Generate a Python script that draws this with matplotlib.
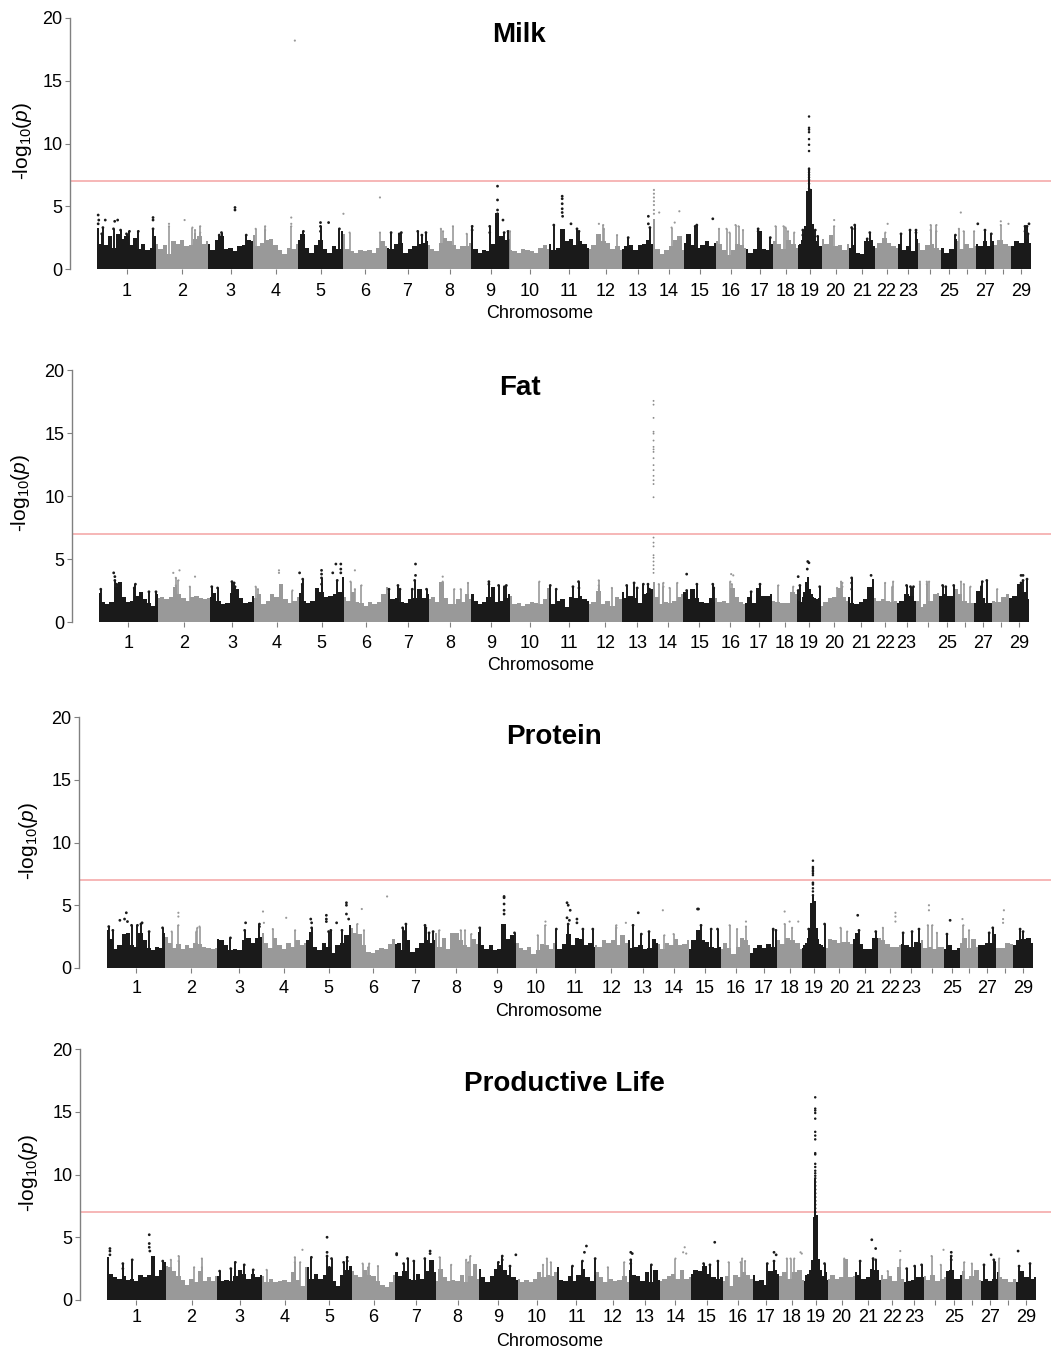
import numpy as np
import matplotlib
matplotlib.use('Agg')
import matplotlib.pyplot as plt

plt.rcParams['font.family'] = ['Liberation Sans', 'DejaVu Sans']
plt.rcParams['mathtext.fontset'] = 'custom'
plt.rcParams['mathtext.rm'] = 'Liberation Sans'
plt.rcParams['mathtext.it'] = 'Liberation Sans:italic'

# === DATA ===
# chromosome lengths
chrom_sizes = [59, 52, 45, 45, 45, 44, 41, 43, 39, 39, 40, 33, 31, 31, 32,
               30, 27, 25, 24, 27, 26, 23, 20, 23, 16, 19, 18, 17, 20]
chrom_labels = ['1', '2', '3', '4', '5', '6', '7', '8', '9', '10', '11', '12',
                '13', '14', '15', '16', '17', '18', '19', '20', '21', '22',
                '23', '', '25', '', '27', '', '29']
threshold = 7

# top of the solid mass along each chromosome, one list per chromosome
milk_top = [
    [3.3, 2.0, 1.9, 2.6, 1.7, 2.8, 2.4, 2.6, 1.9, 2.5, 1.6, 2.0, 1.5, 1.7, 2.6],
    [2.0, 1.6, 1.9, 1.2, 2.2, 2.0, 2.3, 1.8, 1.9, 2.4, 2.6, 2.0, 2.2],
    [2.0, 1.5, 2.3, 2.6, 1.6, 1.7, 1.4, 1.8, 1.9, 2.3, 2.2],
    [2.7, 1.8, 2.1, 2.3, 2.4, 1.9, 1.5, 1.2, 1.7, 1.6, 2.0],
    [2.3, 2.8, 1.7, 1.3, 1.9, 2.3, 1.6, 1.3, 1.8, 1.6, 3.0],
    [2.8, 1.6, 1.4, 1.3, 1.5, 1.4, 1.5, 1.3, 1.7, 2.2, 1.8],
    [1.7, 1.6, 2.0, 2.1, 1.3, 1.6, 1.8, 2.0, 2.1, 2.2],
    [1.9, 1.6, 1.4, 2.1, 2.5, 2.2, 1.9, 1.6, 1.8, 1.8, 2.1],
    [2.2, 1.6, 1.3, 1.5, 1.4, 2.0, 4.5, 2.6, 2.3, 2.4],
    [1.5, 1.4, 1.3, 1.6, 1.5, 1.4, 1.3, 1.7, 1.9, 1.6],
    [2.0, 1.5, 1.7, 3.2, 2.2, 2.4, 1.9, 2.2, 2.0, 1.7],
    [1.6, 1.9, 2.8, 2.2, 2.1, 1.6, 1.8, 1.5],
    [1.6, 1.8, 1.9, 1.5, 1.9, 2.0, 2.3, 2.0],
    [4.0, 1.6, 1.2, 1.5, 1.8, 2.3, 2.6, 1.5],
    [2.1, 2.8, 1.9, 1.7, 1.9, 2.2, 1.8, 2.1],
    [2.2, 2.0, 1.5, 1.1, 1.5, 2.0, 1.9, 1.7],
    [1.6, 1.3, 1.6, 3.0, 1.6, 1.5, 2.0],
    [2.2, 2.0, 1.6, 2.3, 2.0, 1.7],
    [1.9, 2.0, 2.3, 2.6, 3.4, 6.2, 7.9, 6.4, 3.6, 2.6, 2.2, 2.0, 1.8, 1.8],
    [2.4, 2.0, 2.7, 1.8, 1.9, 1.5, 2.0],
    [1.7, 1.9, 1.3, 1.2, 2.2, 2.3, 1.8],
    [1.7, 2.1, 2.5, 2.1, 1.8, 1.7],
    [2.0, 1.5, 1.8, 1.4, 2.4],
    [2.1, 1.5, 1.9, 2.0, 1.7, 1.5],
    [1.7, 1.3, 1.6, 2.4],
    [2.2, 1.6, 2.0, 1.7, 1.8],
    [2.0, 1.8, 2.2, 1.8, 2.2],
    [1.9, 2.3, 2.0, 1.8],
    [1.8, 2.2, 2.1, 2.4, 2.1],
]
fat_top = [
    [2.3, 1.6, 1.4, 1.6, 2.8, 3.2, 2.0, 1.6, 1.7, 2.1, 2.4, 1.8, 1.5, 1.3, 2.2],
    [1.9, 2.0, 1.8, 2.0, 2.8, 2.2, 1.9, 1.7, 2.0, 2.1, 1.9, 1.8, 1.9],
    [2.0, 2.3, 1.7, 1.4, 1.5, 2.3, 2.6, 1.9, 1.5, 1.6, 2.1],
    [1.9, 2.2, 1.4, 1.7, 2.2, 2.0, 3.0, 1.8, 1.5, 1.7, 2.0],
    [2.3, 1.7, 1.5, 1.7, 2.7, 2.4, 2.0, 2.1, 2.2, 2.4, 3.6],
    [2.0, 1.7, 2.4, 1.6, 1.5, 1.3, 1.6, 1.4, 1.6, 2.2, 2.8],
    [2.3, 1.8, 1.9, 1.6, 1.5, 1.8, 1.9, 2.6, 1.9, 2.2],
    [1.8, 2.0, 1.6, 3.2, 1.9, 1.4, 1.4, 1.8, 1.6, 2.2, 1.8],
    [2.2, 1.7, 1.4, 1.6, 2.0, 2.8, 1.6, 1.7, 1.9, 2.2],
    [2.1, 1.4, 1.5, 1.3, 1.4, 1.6, 1.5, 1.4, 1.8, 2.7],
    [1.9, 1.4, 1.7, 1.8, 1.2, 2.0, 1.9, 2.1, 1.8, 1.7],
    [1.4, 1.6, 2.5, 1.4, 1.7, 1.3, 2.0, 1.8],
    [2.4, 1.9, 2.1, 1.9, 1.5, 2.2, 2.3, 2.6],
    [3.2, 2.0, 1.4, 1.6, 1.5, 1.7, 2.0, 2.2],
    [2.4, 1.8, 2.6, 1.9, 1.6, 1.5, 1.9, 1.6],
    [1.9, 1.6, 1.7, 1.5, 2.7, 2.0, 1.6, 1.4],
    [1.5, 2.0, 1.5, 2.7, 2.1, 2.1, 2.2],
    [1.7, 1.6, 1.5, 1.5, 2.4, 2.2],
    [1.8, 1.7, 1.6, 2.0, 2.4, 3.2, 3.6, 2.6, 2.2, 2.0, 1.9, 1.8, 1.9, 1.7],
    [1.3, 1.6, 1.9, 2.0, 2.7, 2.0, 1.7],
    [2.0, 1.5, 1.4, 1.6, 1.8, 2.8, 3.4],
    [1.9, 1.7, 1.8, 1.7, 1.6, 1.7],
    [1.5, 1.7, 2.2, 2.1, 1.7],
    [1.7, 1.2, 1.4, 1.7, 2.2, 2.3],
    [2.1, 2.2, 2.1, 2.6],
    [2.6, 2.2, 1.7, 1.5, 1.5],
    [1.5, 2.5, 1.9, 1.5, 1.5],
    [1.7, 1.6, 2.0, 2.2],
    [1.9, 2.1, 3.0, 2.4, 1.8],
]
protein_top = [
    [3.0, 2.3, 1.5, 1.8, 2.7, 2.8, 1.8, 1.7, 2.8, 2.2, 1.6, 1.4, 1.7, 1.6, 2.8],
    [2.5, 2.0, 1.6, 1.9, 1.5, 1.8, 1.6, 2.0, 1.9, 1.7, 1.6, 1.5, 1.6],
    [2.3, 2.2, 1.8, 1.4, 1.5, 1.4, 2.2, 2.4, 2.0, 2.4, 2.5],
    [2.8, 2.0, 1.6, 2.4, 1.8, 1.5, 2.0, 1.7, 2.2, 1.8, 2.0],
    [2.2, 2.9, 1.7, 1.4, 2.0, 1.7, 1.2, 1.8, 2.0, 2.6, 3.4],
    [3.2, 2.8, 2.7, 1.8, 1.3, 1.2, 1.4, 1.6, 1.5, 1.9, 2.3],
    [1.9, 2.0, 1.4, 2.2, 1.3, 1.6, 2.0, 2.2, 2.0, 2.2],
    [2.8, 1.7, 2.4, 1.5, 2.8, 2.8, 2.2, 1.8, 1.7, 2.3, 1.9],
    [2.9, 1.8, 1.5, 1.8, 1.4, 1.5, 3.5, 2.3, 2.6, 2.0],
    [2.0, 1.6, 1.4, 1.7, 1.1, 1.4, 1.9, 1.8, 1.5, 2.0],
    [1.8, 1.5, 1.9, 2.7, 1.8, 2.4, 2.3, 1.8, 2.0, 1.7],
    [1.8, 1.7, 2.2, 2.0, 2.2, 1.8, 2.6, 2.0],
    [2.2, 1.6, 1.7, 1.8, 1.5, 1.6, 2.3, 2.0],
    [1.9, 1.5, 2.0, 1.8, 2.3, 1.8, 1.9, 2.2],
    [1.5, 2.2, 3.0, 2.2, 2.1, 1.7, 1.6, 1.7],
    [1.5, 2.0, 1.6, 1.1, 1.7, 2.4, 2.2, 1.8],
    [1.2, 1.6, 1.8, 1.6, 1.9, 1.7, 2.5],
    [2.2, 1.9, 2.4, 2.2, 2.0, 1.5],
    [1.6, 1.8, 2.0, 2.4, 3.2, 5.2, 5.8, 5.3, 3.2, 2.3, 1.9, 1.8, 1.7, 1.6],
    [1.6, 2.3, 2.2, 2.0, 2.1, 2.1, 1.9],
    [2.3, 2.8, 1.9, 1.5, 1.5, 2.4, 2.4],
    [2.4, 2.2, 1.9, 1.7, 1.7, 1.8],
    [1.9, 1.8, 1.7, 2.1, 2.0],
    [2.2, 1.6, 1.7, 1.5, 1.7, 1.7],
    [1.5, 1.8, 1.4, 1.6],
    [2.0, 2.4, 1.6, 2.3, 1.7],
    [1.8, 1.8, 2.0, 2.0, 2.7],
    [1.6, 1.6, 2.0, 1.9],
    [1.8, 2.2, 2.3, 2.4, 2.0],
]
life_top = [
    [3.4, 2.1, 1.8, 1.7, 1.9, 1.6, 1.7, 1.5, 2.0, 1.8, 2.0, 3.5, 1.9, 2.4, 3.0],
    [2.7, 2.6, 2.3, 1.9, 1.6, 1.2, 1.7, 1.4, 2.3, 1.5, 1.8, 1.5, 1.9],
    [1.9, 1.5, 1.6, 1.5, 1.9, 2.4, 2.1, 1.7, 2.1, 1.8, 2.0],
    [1.9, 1.4, 1.7, 1.4, 1.5, 1.6, 1.4, 2.2, 1.6, 1.1, 2.6],
    [2.6, 1.7, 2.1, 1.7, 2.0, 2.6, 1.5, 1.1, 2.0, 2.4, 2.7],
    [2.3, 2.0, 1.8, 2.4, 2.0, 1.9, 1.5, 1.2, 1.0, 1.4, 2.0],
    [2.2, 1.9, 2.3, 1.7, 1.6, 2.1, 1.7, 2.3, 3.2, 2.2],
    [1.5, 2.5, 1.8, 1.5, 1.6, 1.5, 2.0, 1.4, 1.9, 2.9, 1.7],
    [2.5, 1.8, 1.4, 1.9, 2.5, 2.8, 2.4, 2.0, 1.8, 1.6],
    [1.7, 1.4, 1.6, 1.4, 1.7, 2.2, 1.8, 2.0, 1.9, 2.2],
    [2.6, 1.6, 1.5, 1.9, 1.5, 2.0, 2.5, 1.8, 1.5, 2.0],
    [2.2, 1.8, 1.4, 1.7, 1.5, 1.6, 1.9, 1.4],
    [2.4, 2.0, 1.9, 1.5, 2.2, 1.4, 2.4, 1.6],
    [1.5, 1.7, 1.9, 2.1, 1.7, 2.4, 1.7, 1.8],
    [2.1, 2.4, 2.3, 2.7, 2.1, 1.8, 1.7, 1.8],
    [1.5, 1.9, 1.1, 2.0, 1.8, 2.2, 2.0, 1.7],
    [2.0, 1.5, 1.6, 1.2, 2.3, 2.4, 2.1],
    [1.9, 2.2, 1.7, 2.2, 2.4, 1.6],
    [1.5, 2.0, 2.1, 2.4, 3.2, 6.6, 9.7, 6.8, 3.3, 2.4, 1.9, 1.9, 2.2, 1.6],
    [1.7, 2.0, 1.7, 1.8, 3.3, 1.8, 1.9],
    [2.2, 2.0, 1.7, 1.8, 2.5, 2.4, 1.6],
    [2.0, 1.7, 1.9, 1.5, 2.6, 1.7],
    [1.4, 1.5, 1.6, 1.8, 1.8],
    [1.9, 1.6, 2.0, 1.5, 1.7, 1.8],
    [2.3, 2.4, 1.7, 2.0],
    [2.3, 1.7, 1.9, 2.4, 1.6],
    [1.5, 1.7, 1.5, 1.7, 2.2],
    [1.8, 1.7, 1.4, 1.7],
    [1.4, 2.3, 1.8, 1.7, 1.8],
]

# loose points above the mass: chromosome, place along it (0-1), -log10(p)
milk_points = [
    (1, .02, 4.3), (1, .03, 3.9), (1, .02, 3.6), (1, .14, 3.9), (1, .3, 3.8), (1, .35, 3.9),
    (1, .1, 3.3), (1, .28, 3.2), (1, .4, 3.1), (1, .55, 3.0), (1, .7, 3.0), (1, .95, 4.1),
    (1, .95, 3.9), (1, .95, 3.2), (1, .08, 2.8), (1, .5, 2.8),
    (2, .25, 3.6), (2, .25, 3.4), (2, .55, 3.9), (2, .7, 3.3), (2, .75, 3.1), (2, .85, 3.4),
    (2, .75, 2.8), (2, .85, 2.9),
    (3, .6, 4.9), (3, .6, 4.7), (3, .3, 2.9), (3, .85, 2.7), (3, .25, 2.7),
    (4, .06, 3.2), (4, .27, 3.4), (4, .27, 3.1), (4, .85, 4.1), (4, .85, 3.6), (4, .85, 3.4),
    (4, .93, 18.2),
    (5, .12, 3.0), (5, .5, 3.7), (5, .5, 3.4), (5, .68, 3.7), (5, .5, 3.0), (5, .92, 3.2),
    (6, .01, 4.4), (6, .15, 2.9), (6, .84, 5.7), (6, .84, 2.9),
    (7, .1, 2.9), (7, .3, 2.8), (7, .35, 2.9), (7, .75, 3.0), (7, .95, 2.9), (7, .85, 2.7),
    (8, .3, 3.2), (8, .58, 3.4), (8, .9, 2.8), (8, .35, 3.0),
    (9, .03, 3.4), (9, .03, 3.1), (9, .68, 6.6), (9, .68, 5.5), (9, .68, 4.7), (9, .68, 4.4),
    (9, .82, 3.9), (9, .48, 3.4), (9, .48, 2.9), (9, .95, 3.0), (9, .85, 2.9),
    (10, .0, 3.0),
    (11, .33, 5.8), (11, .33, 5.6), (11, .33, 5.2), (11, .33, 4.8), (11, .33, 4.5), (11, .12, 3.5),
    (11, .34, 4.2), (11, .55, 3.6), (11, .7, 3.2), (11, .75, 3.0),
    (12, .3, 3.6), (12, .43, 3.5), (12, .45, 3.2), (12, .85, 2.7),
    (13, .85, 4.2), (13, .85, 3.6), (13, .9, 3.3), (13, .2, 2.5),
    (14, .03, 6.3), (14, .03, 6.0), (14, .03, 5.7), (14, .03, 5.4), (14, .03, 5.1), (14, .03, 4.7),
    (14, .03, 4.4), (14, .2, 4.5), (14, .85, 4.6), (14, .7, 3.7), (14, .6, 3.3),
    (15, .9, 4.0), (15, .35, 3.4), (15, .4, 3.5),
    (16, .1, 3.2), (16, .35, 3.2), (16, .65, 3.5), (16, .75, 3.4), (16, .9, 3.1), (16, .45, 2.9),
    (17, .45, 3.2), (17, .45, 3.0), (17, .9, 2.5),
    (18, .1, 3.4), (18, .42, 3.4), (18, .5, 3.3), (18, .6, 3.0), (18, .85, 2.9),
    (19, .2, 3.1), (19, .2, 2.7), (19, .72, 3.1), (19, .82, 2.6),
    (20, .45, 3.9), (20, .45, 3.4),
    (21, .1, 3.3), (21, .22, 3.5), (21, .22, 3.2), (21, .8, 2.9), (21, .7, 2.4),
    (22, .55, 3.6), (22, .45, 2.9),
    (23, .6, 3.1), (23, .9, 3.1), (23, .9, 2.9), (23, .15, 2.8),
    (24, .55, 3.5), (24, .8, 3.5), (24, .55, 3.1), (24, .8, 3.0),
    (25, .9, 2.7),
    (26, .2, 4.5), (26, .1, 3.2), (26, .35, 3.0), (26, .9, 3.0),
    (27, .1, 3.6), (27, .5, 3.1), (27, .85, 2.8),
    (28, .4, 3.8), (28, .4, 3.5), (28, .85, 3.6),
    (29, .7, 3.4), (29, .8, 3.4), (29, .9, 3.6), (29, .7, 3.0), (29, .85, 2.8),
]
fat_points = [
    (1, .03, 2.6), (1, .25, 3.9), (1, .27, 3.6), (1, .27, 3.3), (1, .3, 3.0), (1, .62, 3.0),
    (1, .6, 2.7), (1, .85, 2.4), (1, .97, 2.4),
    (2, .3, 3.9), (2, .42, 4.1), (2, .35, 3.5), (2, .72, 3.6), (2, .4, 3.3), (2, .62, 2.8), (2, .35, 2.9),
    (3, .05, 2.8), (3, .18, 2.7), (3, .5, 3.2), (3, .55, 3.1), (3, .57, 2.8), (3, .55, 2.6), (3, .62, 2.4),
    (4, .03, 2.8), (4, .55, 4.1), (4, .55, 3.9), (4, .08, 2.6), (4, .85, 2.5),
    (5, .01, 3.9), (5, .08, 3.4), (5, .07, 3.0), (5, .5, 4.1), (5, .5, 3.8), (5, .5, 3.5),
    (5, .75, 3.9), (5, .82, 4.6), (5, .93, 4.6), (5, .93, 4.2), (5, .93, 3.9), (5, .85, 3.3), (5, .5, 3.0),
    (6, .25, 4.1), (6, .15, 3.2), (6, .4, 2.9), (6, .25, 2.6),
    (7, .03, 2.6), (7, .25, 2.9), (7, .3, 2.6), (7, .68, 4.6), (7, .68, 3.7), (7, .66, 3.3),
    (7, .6, 2.6), (7, .95, 2.6),
    (8, .33, 3.6), (8, .33, 3.2), (8, .6, 2.6), (8, .75, 2.6), (8, .92, 3.1),
    (9, .45, 3.2), (9, .7, 2.9), (9, .85, 2.8), (9, .9, 2.9), (9, .45, 3.0),
    (10, .75, 3.2),
    (11, .03, 2.9), (11, .18, 2.6), (11, .74, 3.2), (11, .6, 2.8), (11, .75, 2.7),
    (12, .3, 3.3), (12, .3, 2.9), (12, .7, 2.7), (12, .3, 2.6),
    (13, .16, 2.9), (13, .4, 3.1), (13, .5, 2.7), (13, .7, 3.0), (13, .85, 3.0), (13, .9, 2.6),
    (14, .35, 3.1), (14, .35, 2.8), (14, .2, 3.0), (14, .8, 3.1), (14, .55, 2.7),
    (15, .1, 3.8), (15, .42, 3.0), (15, .92, 3.0), (15, .95, 2.7), (15, .1, 2.5),
    (16, .53, 3.8), (16, .6, 3.7), (16, .5, 3.2), (16, .55, 3.0),
    (17, .55, 3.0), (17, .22, 2.4),
    (18, .25, 2.9), (18, .85, 2.8),
    (19, .45, 4.8), (19, .5, 4.7), (19, .43, 4.2), (19, .05, 3.6), (19, .12, 2.9), (19, .95, 2.8), (19, .05, 2.5),
    (20, .75, 3.2), (20, .8, 3.1), (20, .8, 2.8), (20, .6, 2.7),
    (21, .15, 3.5), (21, .15, 3.1), (21, .15, 2.6), (21, .9, 3.7),
    (22, .5, 3.1), (22, .85, 3.2), (22, .82, 2.8),
    (23, .5, 2.9), (23, .7, 2.8), (23, .85, 2.8),
    (24, .15, 3.2), (24, .15, 3.0), (24, .45, 3.2), (24, .55, 3.2), (24, .45, 3.0),
    (25, .2, 2.9), (25, .4, 2.8), (25, .9, 2.9),
    (26, .3, 3.2), (26, .45, 3.0), (26, .8, 2.8),
    (27, .45, 3.2), (27, .7, 3.3), (27, .4, 2.8),
    (28, .3, 2.6),
    (29, .6, 3.7), (29, .7, 3.7), (29, .9, 3.4), (29, .7, 3.3), (29, .6, 3.1),
]
protein_points = [
    (1, .03, 3.3), (1, .1, 3.0), (1, .22, 3.8), (1, .3, 3.9), (1, .33, 4.4), (1, .35, 3.7),
    (1, .42, 3.4), (1, .52, 3.4), (1, .58, 3.5), (1, .6, 3.6), (1, .72, 2.9), (1, .95, 3.2),
    (2, .25, 4.4), (2, .25, 4.1), (2, .25, 3.4), (2, .6, 2.9), (2, .62, 3.2), (2, .66, 3.3), (2, .12, 2.9),
    (3, .64, 3.6), (3, .62, 3.0), (3, .95, 3.5), (3, .95, 3.3), (3, .3, 2.4),
    (4, .03, 4.5), (4, .05, 3.6), (4, .55, 4.0), (4, .25, 3.1), (4, .75, 3.0),
    (5, .1, 3.9), (5, .12, 3.6), (5, .12, 3.2), (5, .45, 4.2), (5, .45, 3.9), (5, .45, 3.7),
    (5, .68, 3.6), (5, .9, 5.2), (5, .9, 5.0), (5, .9, 4.3), (5, .95, 3.9), (5, .55, 3.0),
    (5, .5, 2.9), (5, .8, 3.0),
    (6, .25, 4.7), (6, .83, 5.7), (6, .15, 3.5), (6, .3, 3.0),
    (7, .2, 3.2), (7, .28, 3.5), (7, .25, 2.9), (7, .75, 3.4), (7, .77, 3.2), (7, .95, 2.9), (7, .85, 2.8),
    (8, .1, 3.0), (8, .6, 3.0), (8, .7, 3.0), (8, .85, 2.7),
    (9, .68, 5.7), (9, .68, 5.6), (9, .68, 5.1), (9, .68, 4.6), (9, .68, 4.3), (9, .05, 3.2), (9, .95, 2.8),
    (10, .75, 3.7), (10, .75, 3.4), (10, .55, 2.6),
    (11, .3, 5.2), (11, .33, 5.0), (11, .38, 4.6), (11, .3, 4.0), (11, .36, 3.8), (11, .55, 3.9),
    (11, .55, 3.6), (11, .33, 3.5), (11, .03, 3.1), (11, .95, 3.1), (11, .7, 3.1),
    (12, .95, 3.6), (12, .66, 3.2), (12, .66, 3.4),
    (13, .35, 4.4), (13, .18, 3.4), (13, .45, 2.7), (13, .7, 2.9),
    (14, .15, 4.6), (14, .5, 2.7), (14, .2, 2.6),
    (15, .3, 4.7), (15, .27, 4.7), (15, .38, 3.4), (15, .7, 3.1), (15, .9, 3.1),
    (16, .3, 3.4), (16, .55, 3.1), (16, .85, 3.7), (16, .85, 3.3),
    (17, .85, 3.1), (17, .95, 3.0),
    (18, .3, 4.5), (18, .3, 3.5), (18, .5, 3.7), (18, .85, 3.7), (18, .6, 3.2),
    (19, .28, 3.1), (19, .95, 3.5),
    (20, .55, 3.2), (20, .8, 2.9),
    (21, .2, 4.2), (21, .25, 3.0), (21, .9, 2.9),
    (22, .75, 4.4), (22, .75, 4.1), (22, .75, 3.7), (22, .2, 3.2),
    (23, .1, 2.8), (23, .55, 2.9), (23, .9, 3.1),
    (24, .35, 5.0), (24, .35, 4.6), (24, .3, 3.4), (24, .5, 3.4), (24, .7, 2.8),
    (25, .4, 3.8), (25, .2, 2.7),
    (26, .15, 3.9), (26, .2, 3.4), (26, .5, 3.0),
    (27, .8, 3.2), (27, .6, 2.8),
    (28, .45, 4.6), (28, .4, 3.9), (28, .4, 3.6),
    (29, .35, 3.1), (29, .5, 2.9),
]
life_points = [
    (1, .05, 4.1), (1, .05, 3.9), (1, .05, 3.6), (1, .27, 2.9), (1, .43, 3.2), (1, .72, 5.2),
    (1, .72, 4.5), (1, .72, 4.2), (1, .73, 3.9), (1, .95, 3.1), (1, .27, 2.5),
    (2, .1, 3.2), (2, .25, 3.5), (2, .25, 3.1), (2, .7, 3.3), (2, .7, 2.6), (2, .55, 2.6),
    (3, .05, 2.3), (3, .3, 2.5), (3, .4, 3.0), (3, .6, 2.8), (3, .8, 2.4),
    (4, .9, 4.0), (4, .73, 3.4), (4, .73, 3.0), (4, .85, 3.0), (4, .1, 2.4),
    (5, .1, 3.4), (5, .45, 5.0), (5, .45, 3.8), (5, .45, 3.5), (5, .55, 3.3), (5, .9, 3.4),
    (5, .9, 3.1), (5, .82, 3.0), (5, .5, 2.6),
    (6, .25, 2.9), (6, .4, 2.9), (6, .6, 2.7), (6, .38, 2.6),
    (7, .03, 3.7), (7, .03, 3.6), (7, .3, 3.3), (7, .45, 3.1), (7, .72, 3.3), (7, .85, 3.9),
    (7, .85, 3.7), (7, .2, 2.9),
    (8, .08, 3.4), (8, .35, 2.8), (8, .7, 3.2), (8, .8, 3.5), (8, .75, 3.0),
    (9, .6, 3.5), (9, .6, 3.2), (9, .5, 3.0), (9, .8, 2.7), (9, .95, 3.6),
    (10, .75, 3.3), (10, .85, 3.0), (10, .65, 2.8),
    (11, .75, 4.3), (11, .7, 3.8), (11, .97, 3.3), (11, .65, 3.1), (11, .4, 2.7),
    (12, .85, 3.0), (12, .35, 2.6),
    (13, .05, 3.8), (13, .1, 3.7), (13, .05, 3.2), (13, .05, 2.9), (13, .72, 2.8),
    (14, .5, 3.3), (14, .8, 4.2), (14, .75, 3.8), (14, .85, 3.7),
    (15, .75, 4.6), (15, .85, 3.1), (15, .4, 2.9), (15, .6, 2.8),
    (16, .2, 3.0), (16, .6, 3.0), (16, .65, 3.3), (16, .75, 3.1),
    (17, .8, 3.8), (17, .88, 3.6), (17, .8, 3.1), (17, .55, 2.9),
    (18, .3, 3.3), (18, .45, 3.3), (18, .6, 3.3), (18, .85, 3.8), (18, .9, 3.7),
    (19, .85, 2.9),
    (20, .6, 3.3),
    (21, .2, 3.1), (21, .65, 4.8), (21, .8, 4.1), (21, .7, 3.3), (21, .8, 3.2),
    (22, .85, 3.9), (22, .85, 3.2), (22, .3, 2.3),
    (23, .15, 2.5), (23, .55, 2.7), (23, .9, 2.8),
    (24, .35, 3.5), (24, .75, 2.8), (24, .87, 4.0),
    (25, .3, 3.8), (25, .3, 3.5), (25, .3, 3.2),
    (26, .1, 3.0), (26, .5, 2.9),
    (27, .55, 3.6), (27, .7, 3.2), (27, .75, 3.0), (27, .15, 2.8),
    (28, .0, 3.3),
    (29, .1, 3.9), (29, .7, 2.9), (29, .15, 2.7),
]

# the single columns of points over the main peaks
milk_peak = (19, .46, [12.15, 11.25, 11.1, 10.9, 10.35, 9.9, 9.4, 8.0, 7.9, 7.7, 7.5, 7.3, 7.1, 6.8, 6.4, 6.0, 5.5])
fat_peak = (14, .03, [17.55, 17.25, 16.2, 15.1, 14.95, 14.4, 13.9, 13.7, 13.5, 13.0, 12.45, 12.05,
                      11.6, 11.25, 10.95, 9.9, 6.7, 6.3, 6.0, 5.3, 5.1, 4.8, 4.5, 4.2, 3.9])
protein_peak = (19, .46, [8.55, 8.05, 7.95, 7.8, 7.7, 7.55, 7.4, 6.8, 6.75, 6.65, 6.35, 6.1, 5.8])
life_peak = (19, .46, [16.15, 15.25, 15.1, 14.9, 14.45, 13.4, 13.1, 12.8, 11.7, 11.6, 10.85, 10.6,
                       10.3, 10.1, 9.9, 9.7, 9.4, 9.1, 8.8, 8.5, 8.2, 7.9, 7.6, 7.3, 7.0, 6.7, 6.4, 6.1])

titles = ['Milk', 'Fat', 'Protein', 'Productive Life']
tops = [milk_top, fat_top, protein_top, life_top]
points = [milk_points, fat_points, protein_points, life_points]
peaks = [milk_peak, fat_peak, protein_peak, life_peak]

# === LAYOUT (pixels of the 1051x1349 picture) ===
W, H = 1051, 1349
spine_x = [70, 72, 79, 80]
y_zero = [269, 622, 968, 1300]
y_twenty = [18, 370, 717, 1049]
x_start = [97, 99, 107, 107]
x_end = [1031, 1029, 1033, 1036]
title_xy = [(519, 35), (520, 388), (554, 737), (564, 1084)]
xlabel_xy = [(540, 314), (541, 665), (549, 1012), (550, 1342)]
ylabel_xy = [(22, 141), (20, 493), (28, 841), (28, 1173)]
tick_pad = [6.5, 6.0, 4.8, 3.0]

BLACK = '#1a1a1a'
GREY = '#999999'
STEM_MAX = 3.5  # loose points up to here still touch the mass

fig = plt.figure(figsize=(W / 100, H / 100), dpi=100)

edges = np.concatenate([[0], np.cumsum(chrom_sizes)])
centers = (edges[:-1] + edges[1:]) / 2
total = edges[-1]

for p in range(4):
    ax = fig.add_axes([spine_x[p] / W, 1 - y_zero[p] / H,
                       (W - spine_x[p]) / W, (y_zero[p] - y_twenty[p]) / H])
    scale = (x_end[p] - x_start[p]) / total
    ax.set_xlim(-(x_start[p] - spine_x[p]) / scale, total + (W - x_end[p]) / scale)
    ax.set_ylim(0, 20)

    for c in range(29):
        color = BLACK if c % 2 == 0 else GREY
        env = tops[p][c]
        xs = np.linspace(edges[c], edges[c + 1], len(env))
        ax.fill_between(xs, 0, env, step='mid', color=color, lw=0, zorder=2)

    px, py, pc, ps = [], [], [], []
    for chrom, frac, val in points[p]:
        x = edges[chrom - 1] + frac * chrom_sizes[chrom - 1]
        odd = chrom % 2 == 1
        px.append(x)
        py.append(val)
        pc.append(BLACK if odd else GREY)
        ps.append(4.0 if odd else 2.4)
        if val <= STEM_MAX:
            ax.vlines(x, 0, val, color=BLACK if odd else GREY, lw=1.4 if odd else 1.2, zorder=2)
    chrom, frac, vals = peaks[p]
    for val in vals:
        odd = chrom % 2 == 1
        px.append(edges[chrom - 1] + frac * chrom_sizes[chrom - 1])
        py.append(val)
        pc.append(BLACK if odd else '#8c8c8c')
        ps.append(3.2 if odd else 1.8)
    ax.scatter(px, py, s=ps, c=pc, linewidths=0, zorder=3, clip_on=False)

    ax.axhline(threshold, color='#f4a3a3', lw=1.1, zorder=1)

    for side in ['top', 'right', 'bottom']:
        ax.spines[side].set_visible(False)
    ax.spines['left'].set_color('#808080')
    ax.spines['left'].set_linewidth(1.0)
    ax.set_yticks([0, 5, 10, 15, 20])
    ax.tick_params(axis='y', length=3.8, width=0.8, color='#808080', labelsize=13, pad=1.5)
    ax.set_xticks(centers)
    ax.set_xticklabels(chrom_labels)
    ax.tick_params(axis='x', length=3.6, width=0.8, color='#808080', labelsize=13, pad=tick_pad[p])

    tx, ty = title_xy[p]
    fig.text(tx / W, 1 - ty / H, titles[p], fontsize=20, fontweight='bold', ha='center', va='center')
    lx, ly = xlabel_xy[p]
    fig.text(lx / W, 1 - ly / H, 'Chromosome', fontsize=12.9, ha='center', va='center')
    yx, yy = ylabel_xy[p]
    fig.text(yx / W, 1 - yy / H, r'-log$_{10}$($\mathit{p}$)', fontsize=15, rotation=90,
             ha='center', va='center')

fig.savefig('out.png', dpi=100)
